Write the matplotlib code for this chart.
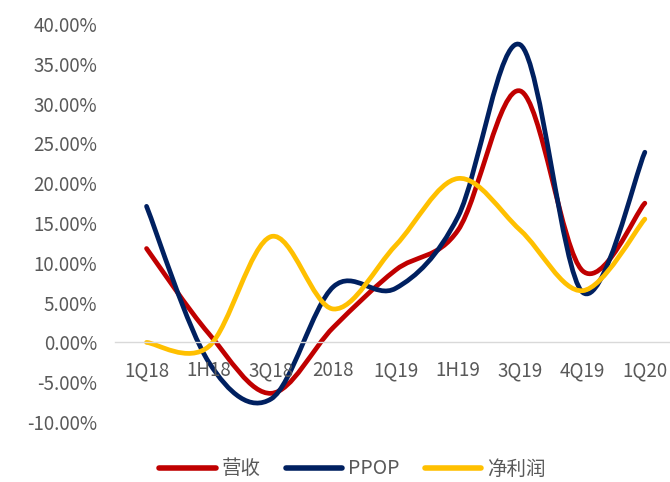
import matplotlib
matplotlib.use("Agg")
import matplotlib.pyplot as plt
import numpy as np
from matplotlib.path import Path
from matplotlib.patches import PathPatch
from matplotlib.lines import Line2D
from matplotlib.ticker import FuncFormatter

plt.rcParams["font.family"] = ["Noto Sans CJK SC", "DejaVu Sans"]

# 数据（百分比）
categories = ["1Q18", "1H18", "3Q18", "2018", "1Q19", "1H19", "3Q19", "4Q19", "1Q20"]
revenue = [11.8, 1.1, -6.4, 1.9, 9.1, 14.1, 31.6, 9.0, 17.5]      # 营收
ppop = [17.1, -2.5, -7.1, 7.0, 6.8, 15.8, 37.4, 6.3, 23.9]        # PPOP
net_profit = [0.0, -0.5, 13.3, 4.2, 12.2, 20.6, 14.1, 6.5, 15.5]  # 净利润

RED = "#C00000"
NAVY = "#002060"
GOLD = "#FFC000"
GRAY = "#595959"

SERIES = [
    ("营收", revenue, RED),
    ("PPOP", ppop, NAVY),
    ("净利润", net_profit, GOLD),
]


def smooth_path(xs, ys):
    """Catmull-Rom 平滑（类似 Excel 的平滑线），用贝塞尔曲线段表示。"""
    p = np.column_stack([xs, ys]).astype(float)
    n = len(p)
    verts = [p[0]]
    codes = [Path.MOVETO]
    for i in range(n - 1):
        p0 = p[max(i - 1, 0)]
        p1 = p[i]
        p2 = p[i + 1]
        p3 = p[min(i + 2, n - 1)]
        c1 = p1 + (p2 - p0) / 6.0
        c2 = p2 - (p3 - p1) / 6.0
        verts += [c1, c2, p2]
        codes += [Path.CURVE4] * 3
    return Path(verts, codes)


fig = plt.figure(figsize=(6.7, 4.82), dpi=100)
# 类目轴右端超出画布，与原图一致（零线一直画到右边缘）
ax = fig.add_axes([115.4 / 670, 0.1245, 560.6 / 670, 0.8255])

x = np.arange(len(categories))
for label, vals, color in SERIES:
    patch = PathPatch(smooth_path(x, vals), facecolor="none", edgecolor=color,
                      linewidth=3.4, capstyle="round", joinstyle="round")
    ax.add_patch(patch)

ax.set_xlim(-0.5, len(categories) - 0.5)
ax.set_ylim(-10, 40)
ax.set_yticks(np.arange(-10, 41, 5))
ax.yaxis.set_major_formatter(FuncFormatter(lambda v, _: f"{v:.2f}%"))
ax.set_xticks(x)
ax.set_xticklabels(categories)

for s in ("top", "right", "left"):
    ax.spines[s].set_visible(False)
ax.spines["bottom"].set_position(("data", 0))
ax.spines["bottom"].set_color("#D9D9D9")
ax.spines["bottom"].set_linewidth(1.0)
ax.tick_params(axis="x", length=0, pad=13, labelsize=13.5, colors=GRAY)
ax.tick_params(axis="y", length=0, pad=13, labelsize=13.5, colors=GRAY)

handles = [Line2D([0], [0], color=c, lw=4, solid_capstyle="round") for _, _, c in SERIES]
fig.legend(handles, [l for l, _, _ in SERIES], loc="center", bbox_to_anchor=(0.526, 0.027),
           ncol=3, frameon=False, fontsize=14, labelcolor=GRAY,
           handlelength=2.9, handletextpad=0.3, columnspacing=1.3)

fig.savefig("out.png", dpi=100)
